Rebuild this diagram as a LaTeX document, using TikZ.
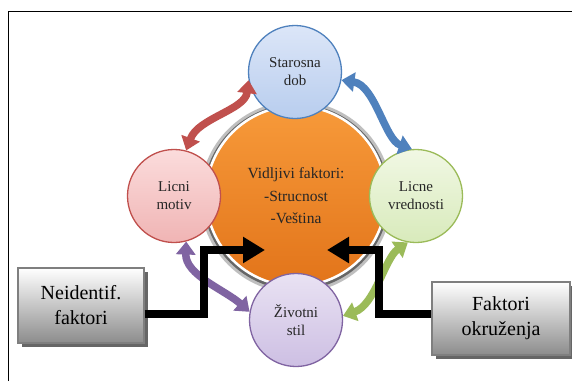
\documentclass[tikz,border=0pt]{standalone}
\usepackage{fontspec}
\setmainfont{Liberation Serif}
\usetikzlibrary{arrows.meta,shadows}

% palette
\definecolor{ageline}{HTML}{4F81BD}
\definecolor{agetop}{HTML}{DCE6F8}
\definecolor{agebot}{HTML}{B8CDEE}
\definecolor{motline}{HTML}{C0504D}
\definecolor{mottop}{HTML}{FBDCDC}
\definecolor{motbot}{HTML}{F0B4B4}
\definecolor{valline}{HTML}{9BBB59}
\definecolor{valtop}{HTML}{F1F8E4}
\definecolor{valbot}{HTML}{D8EABB}
\definecolor{lifeline}{HTML}{8064A2}
\definecolor{lifetop}{HTML}{E9E2F3}
\definecolor{lifebot}{HTML}{CDBFE3}
\definecolor{coretop}{HTML}{F79A3A}
\definecolor{corebot}{HTML}{E2741A}
\definecolor{boxline}{HTML}{7F7F7F}
\definecolor{boxbot}{HTML}{8C8C8C}

\begin{document}
\begin{tikzpicture}[x=1pt,y=-1pt,
  sat/.style={circle, minimum size=93pt, inner sep=0pt, line width=1.3pt,
    align=center, font=\fontsize{15}{18}\selectfont, text=black!85},
  bidir/.style={line width=7.5pt,
    {Triangle[width=19pt,length=13pt]}-{Triangle[width=19pt,length=13pt]}},
  conn/.style={line width=7.5pt, line join=miter, -{Triangle[width=25pt,length=22pt]}},
  factor/.style={rectangle, draw=boxline, line width=1.3pt, top color=white,
    bottom color=boxbot, align=center, font=\fontsize{20}{25}\selectfont,
    drop shadow={shadow xshift=3.5pt, shadow yshift=-4pt, fill=black!60, opacity=1}},
]
\useasboundingbox (0,0) rectangle (572,381);
\fill[white] (0,0) rectangle (572,381);

% outer frame (top and left edges)
\draw[line width=1pt] (8.5,381) -- (8.5,11) -- (572,11);

% central circle with its dark halo and white rim
\fill[black!25] (296,197) circle (96pt);
\fill[black!60] (296,197) circle (93pt);
\node[circle, minimum size=180pt, inner sep=0pt, draw=white, line width=2.5pt,
  top color=coretop, bottom color=corebot, align=center,
  font=\fontsize{15.5}{22.5}\selectfont, text=black!85]
  (core) at (296,196) {Vidljivi faktori:\\-Strucnost\\-Veština};

% satellite circles
\node[sat, draw=ageline, top color=agetop, bottom color=agebot] (age) at (295,72) {Starosna\\dob};
\node[sat, draw=motline, top color=mottop, bottom color=motbot] (motive) at (174,196) {Licni\\motiv};
\node[sat, draw=valline, top color=valtop, bottom color=valbot] (values) at (416,196) {Licne\\vrednosti};
\node[sat, draw=lifeline, top color=lifetop, bottom color=lifebot] (life) at (296,320) {Životni\\stil};

% curved two-way arrows between neighbouring circles
\draw[bidir, motline] (motive.75) .. controls (198,118) and (245,110) .. (age.190);
\draw[bidir, ageline] (age.-10) .. controls (375,85) and (385,140) .. (values.95);
\draw[bidir, valline] (values.-100) .. controls (385,258) and (375,305) .. (life.5);
\draw[bidir, lifeline] (life.170) .. controls (225,290) and (185,275) .. (motive.-75);

% outside factors
\node[factor, minimum width=126pt, minimum height=75pt] (unknown) at (81,305.5) {Neidentif.\\faktori};
\node[factor, minimum width=138pt, minimum height=73pt] (env) at (501,318.5) {Faktori\\okruženja};

% connectors from the factors into the centre
\coordinate (tipL) at (265,250);
\coordinate (tipR) at (327,250);
\draw[conn] ([yshift=-8.5pt]unknown.east) -| (204,250) -- (tipL);
\draw[conn] ([yshift=4.5pt]env.west) -| (379,250) -- (tipR);
\end{tikzpicture}
\end{document}
